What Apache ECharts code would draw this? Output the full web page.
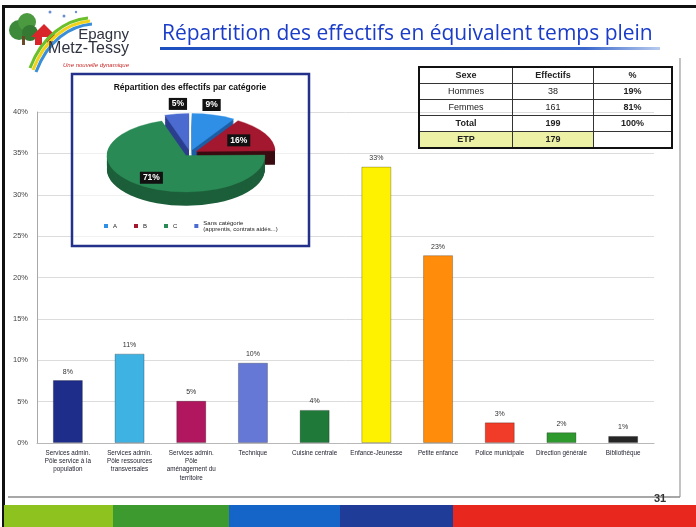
<!DOCTYPE html>
<html>
<head>
<meta charset="utf-8">
<script src="https://cdn.jsdelivr.net/npm/echarts@6/dist/echarts.min.js"></script>
<style>
  body { margin: 0; background: #fff; }
  #wrap { position: relative; width: 696px; height: 527px; overflow: hidden; }
  #chart { position: absolute; left: 0; top: 0; width: 696px; height: 527px; }
  #tbl { position: absolute; left: 418px; top: 66px; border-collapse: collapse; border: 2px solid #111;
         font: 9px 'Liberation Sans', Arial, sans-serif; color: #222; }
  #tbl td { border: 1px solid #333; height: 15px; padding: 0; text-align: center; line-height: 15px; }
</style>
</head>
<body>
<div id="wrap">
  <div id="chart"></div>
  <table id="tbl"></table>
</div>
<script>
// effectifs par service (% des ETP)
const categories = [
  'Services admin.\nPôle service à la\npopulation',
  'Services admin.\nPôle ressources\ntransversales',
  'Services admin.\nPôle\naménagement du\nterritoire',
  'Technique',
  'Cuisine centrale',
  'Enfance-Jeunesse',
  'Petite enfance',
  'Police municipale',
  'Direction générale',
  'Bibliothèque'
];
const shares = [7.6, 10.8, 5.1, 9.7, 4.0, 33.4, 22.7, 2.5, 1.3, 0.85];
const shareLabels = ['8%', '11%', '5%', '10%', '4%', '33%', '23%', '3%', '2%', '1%'];
const barColors = ['#1f2d8a', '#3fb2e4', '#b0175f', '#6678d6', '#1f7a3a',
                   '#fff200', '#ff8c0a', '#f03c28', '#2e9a2e', '#262626'];

// camembert par catégorie
const pieNames = ['A', 'B', 'C', 'Sans catégorie\n(apprentis, contrats aidés...)'];
const pieValues = [9, 16, 71, 5];
const pieLabels = ['9%', '16%', '71%', '5%'];
const pieTop = ['#2f8fe6', '#a3182e', '#2a8a55', '#4b6bd0'];
const pieSide = ['#1d5ea6', '#3a0c12', '#1c5f3a', '#2b3f8e'];

// tableau Sexe / Effectifs
const sexRows = ['Hommes', 'Femmes', 'Total', 'ETP'];
const effectifs = [38, 161, 199, 179];
const pctRows = ['19%', '81%', '100%', ''];

const FONT = "'Liberation Sans', Arial, sans-serif";

// --- tableau html
(function () {
  const tbl = document.getElementById('tbl');
  const widths = [92, 80, 77];
  let html = '<tr>' + ['Sexe', 'Effectifs', '%'].map((t, i) =>
    '<td style="width:' + widths[i] + 'px;font-weight:bold">' + t + '</td>').join('') + '</tr>';
  sexRows.forEach((name, i) => {
    const bold = (name === 'Total' || name === 'ETP');
    const bg = name === 'ETP' ? 'background:#ecf1a6;' : '';
    html += '<tr>' +
      '<td style="' + bg + (bold ? 'font-weight:bold' : '') + '">' + name + '</td>' +
      '<td style="' + bg + (bold ? 'font-weight:bold' : '') + '">' + effectifs[i] + '</td>' +
      '<td style="font-weight:bold">' + pctRows[i] + '</td></tr>';
  });
  tbl.innerHTML = html;
})();

// --- camembert 3D (ellipse écrasée)
const PIE_CX = 190, PIE_CY = 153, PIE_R = 79, PIE_S = 0.46, PIE_DEPTH = 30, PIE_EXPLODE = 7;
const pieTotal = pieValues.reduce((a, b) => a + b, 0);

function renderSlice(k, api) {
  const v = api.value(0);
  let cum = 0;
  for (let i = 0; i < k; i++) cum += pieValues[i];
  const a0 = -Math.PI / 2 + 2 * Math.PI * cum / pieTotal;
  const a1 = a0 + 2 * Math.PI * v / pieTotal;
  const mid = (a0 + a1) / 2;
  const ox = PIE_EXPLODE * Math.cos(mid), oy = PIE_EXPLODE * Math.sin(mid);
  const parts = [];
  for (let d = PIE_DEPTH; d > 0; d -= 2) {
    parts.push({ type: 'sector', z2: 1,
      shape: { cx: ox, cy: oy + d, r: PIE_R, r0: 0, startAngle: a0, endAngle: a1 },
      style: { fill: pieSide[k] } });
  }
  parts.push({ type: 'sector', z2: 20,
    shape: { cx: ox, cy: oy, r: PIE_R, r0: 0, startAngle: a0, endAngle: a1 },
    style: { fill: pieTop[k], stroke: pieTop[k], lineWidth: 0.5 } });

  let lx, ly;
  if (v < 10) {
    lx = PIE_CX + ox + PIE_R * 0.9 * Math.cos(mid);
    ly = PIE_CY + PIE_S * (oy + PIE_R * Math.sin(mid)) - 10;
  } else {
    const lr = PIE_R * (v > 50 ? 0.75 : 0.62);
    lx = PIE_CX + ox + lr * Math.cos(mid);
    ly = PIE_CY + PIE_S * (oy + lr * Math.sin(mid));
  }
  return {
    type: 'group',
    children: [
      { type: 'group', x: PIE_CX, y: PIE_CY, scaleY: PIE_S, children: parts },
      { type: 'text', x: lx, y: ly, z2: 40,
        style: { text: pieLabels[k], fill: '#fff', backgroundColor: '#111', padding: [2, 3, 1, 3],
                 fontSize: 8.5, fontWeight: 'bold', fontFamily: FONT, align: 'center', verticalAlign: 'middle' } }
    ]
  };
}

const pieSeries = pieNames.map((name, k) => ({
  type: 'custom',
  name: name,
  coordinateSystem: 'none',
  silent: true,
  z: 10,
  itemStyle: { color: pieTop[k] },
  data: [[pieValues[k]]],
  renderItem: (params, api) => renderSlice(k, api)
}));

// --- décor de la diapositive
const strip = [['#8dc21f', 4, 113], ['#3c9a2f', 113, 229], ['#1565c8', 229, 340],
               ['#1f3c98', 340, 453], ['#e8281e', 453, 696]];

const graphic = [
  { type: 'rect', shape: { x: 3, y: 5, width: 693, height: 3 }, style: { fill: '#111' } },
  { type: 'rect', shape: { x: 2, y: 5, width: 3, height: 522 }, style: { fill: '#111' } },
  { type: 'line', shape: { x1: 680, y1: 58, x2: 680, y2: 497 }, style: { stroke: '#9a9a9a', lineWidth: 1.2 } },
  { type: 'line', shape: { x1: 8, y1: 497, x2: 680, y2: 497 }, style: { stroke: '#8a8a8a', lineWidth: 1.5 } },
  { type: 'text', x: 660, y: 499, z: 5, style: { text: '31', fontSize: 11, fontWeight: 'bold', fill: '#333',
      fontFamily: FONT, align: 'center', verticalAlign: 'middle' } }
].concat(strip.map(s => ({ type: 'rect', shape: { x: s[1], y: 505, width: s[2] - s[1], height: 22 }, style: { fill: s[0] } })))
.concat([
  // logo
  { type: 'circle', shape: { cx: 19, cy: 30, r: 10 }, style: { fill: '#3d8a3a' } },
  { type: 'circle', shape: { cx: 27, cy: 22, r: 9 }, style: { fill: '#4c9a3f' } },
  { type: 'circle', shape: { cx: 30, cy: 33, r: 8 }, style: { fill: '#347a33' } },
  { type: 'rect', shape: { x: 22, y: 36, width: 3, height: 9 }, style: { fill: '#6b4a2a' } },
  { type: 'polygon', shape: { points: [[31, 37], [44, 24], [57, 37]] }, style: { fill: '#d8262a' } },
  { type: 'rect', shape: { x: 35, y: 35, width: 18, height: 10 }, style: { fill: '#d8262a' } },
  { type: 'rect', shape: { x: 42, y: 37, width: 5, height: 8 }, style: { fill: '#fff' } },
  { type: 'bezierCurve', shape: { x1: 36, y1: 72, x2: 92, y2: 24, cpx1: 48, cpy1: 40, cpx2: 70, cpy2: 26 },
    style: { stroke: '#3b8fd8', lineWidth: 3, fill: null } },
  { type: 'bezierCurve', shape: { x1: 33, y1: 70, x2: 90, y2: 21, cpx1: 45, cpy1: 38, cpx2: 68, cpy2: 23 },
    style: { stroke: '#f2d21b', lineWidth: 3, fill: null } },
  { type: 'bezierCurve', shape: { x1: 30, y1: 68, x2: 88, y2: 18, cpx1: 42, cpy1: 36, cpx2: 66, cpy2: 20 },
    style: { stroke: '#6bbf2a', lineWidth: 3, fill: null } },
  { type: 'circle', shape: { cx: 50, cy: 12, r: 1.5 }, style: { fill: '#6a8fd0' } },
  { type: 'circle', shape: { cx: 64, cy: 16, r: 1.5 }, style: { fill: '#6a8fd0' } },
  { type: 'circle', shape: { cx: 76, cy: 12, r: 1.2 }, style: { fill: '#6a8fd0' } },
  { type: 'text', x: 129, y: 42, style: { text: 'Epagny', fontSize: 15, fill: '#2f3340',
      fontFamily: "'Liberation Sans Narrow', 'Liberation Sans', sans-serif", align: 'right', verticalAlign: 'bottom' } },
  { type: 'text', x: 129, y: 57, style: { text: 'Metz-Tessy', fontSize: 16, fill: '#2f3340',
      fontFamily: "'Liberation Sans Narrow', 'Liberation Sans', sans-serif", align: 'right', verticalAlign: 'bottom' } },
  { type: 'text', x: 129, y: 65, style: { text: 'Une nouvelle dynamique', fontSize: 6, fontStyle: 'italic', fill: '#c62828',
      fontFamily: FONT, align: 'right', verticalAlign: 'middle' } },
  // titre
  { type: 'text', x: 162, y: 45, style: { text: 'Répartition des effectifs en équivalent temps plein', fontSize: 21,
      fill: '#1a3cc8', fontFamily: "'Open Sans', sans-serif", verticalAlign: 'bottom' } },
  { type: 'rect', shape: { x: 160, y: 47, width: 500, height: 3 },
    style: { fill: new echarts.graphic.LinearGradient(0, 0, 1, 0, [
      { offset: 0, color: '#1e4fc0' }, { offset: 0.85, color: '#3a68cc' }, { offset: 1, color: '#b8cbee' }]) } },
  // encart camembert
  { type: 'rect', z: 3, shape: { x: 72, y: 74, width: 237, height: 172 },
    style: { fill: 'rgba(255,255,255,0.6)', stroke: '#23318a', lineWidth: 2.5 } },
  { type: 'text', z: 4, x: 190, y: 88, style: { text: 'Répartition des effectifs par catégorie', fontSize: 8.5,
      fontWeight: 'bold', fill: '#111', fontFamily: FONT, align: 'center', verticalAlign: 'middle' } }
]);

const myChart = echarts.init(document.getElementById('chart'));
myChart.setOption({
  animation: false,
  backgroundColor: '#fff',
  graphic: graphic,
  legend: {
    data: pieNames,
    left: 104, top: 220,
    itemWidth: 4, itemHeight: 4, itemGap: 17,
    icon: 'rect', padding: 0, selectedMode: false, z: 12,
    textStyle: { fontSize: 6, color: '#222', fontFamily: FONT }
  },
  grid: { left: 37, right: 42, top: 112, bottom: 84, containLabel: false },
  xAxis: {
    type: 'category',
    data: categories,
    axisTick: { show: false },
    axisLine: { lineStyle: { color: '#b8b8b8' } },
    axisLabel: { interval: 0, fontSize: 6.3, lineHeight: 8.3, color: '#1c1c2c', margin: 6, fontFamily: FONT }
  },
  yAxis: {
    type: 'value',
    min: 0, max: 40, interval: 5,
    axisLine: { show: true, lineStyle: { color: '#a8a8a8' } },
    axisTick: { show: false },
    axisLabel: { formatter: '{value}%', fontSize: 7.5, color: '#444', margin: 9, fontFamily: FONT },
    splitLine: { lineStyle: { color: '#dcdcdc' } }
  },
  series: [{
    name: 'Effectifs',
    type: 'bar',
    barWidth: 30,
    silent: true,
    data: shares.map((v, i) => ({
      value: v,
      itemStyle: { color: barColors[i], borderColor: 'rgba(0,0,0,0.25)', borderWidth: 1 }
    })),
    label: {
      show: true, position: 'top', distance: 5,
      fontSize: 7, color: '#333', fontFamily: FONT,
      formatter: p => shareLabels[p.dataIndex]
    }
  }].concat(pieSeries)
});
</script>
</body>
</html>
